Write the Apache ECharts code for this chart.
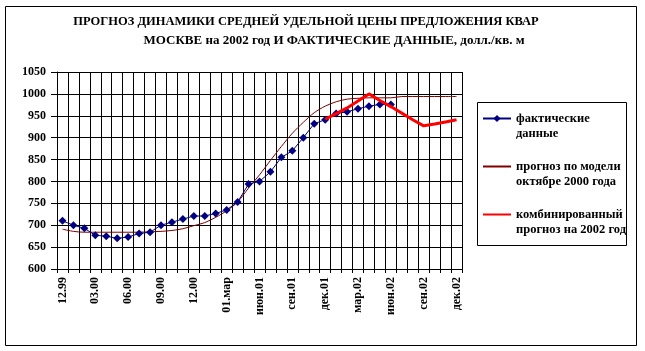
<!DOCTYPE html>
<html>
<head>
<meta charset="utf-8">
<script src="https://cdn.jsdelivr.net/npm/echarts@6/dist/echarts.min.js"></script>
<style>
  html, body { margin: 0; padding: 0; background: #fff; }
  #chart { width: 645px; height: 351px; }
</style>
</head>
<body>
<div id="chart"></div>
<script>
// месяцы: 12.99 ... дек.02
var months = ['12.99', '01.00', '02.00', '03.00', '04.00', '05.00', '06.00', '07.00', '08.00', '09.00',
  '10.00', '11.00', '12.00', 'янв.01', 'фев.01', '01.мар', 'апр.01', 'май.01', 'июн.01', 'июл.01',
  'авг.01', 'сен.01', 'окт.01', 'ноя.01', 'дек.01', 'янв.02', 'фев.02', 'мар.02', 'апр.02', 'май.02',
  'июн.02', 'июл.02', 'авг.02', 'сен.02', 'окт.02', 'ноя.02', 'дек.02'];

// фактические данные
var factData = [710, 700, 693, 677, 675, 670, 673, 681, 684, 700,
  707, 714, 721, 721, 727, 735, 753, 794, 800, 822,
  855, 870, 900, 932, 941, 955, 959, 966, 972, 976,
  976, null, null, null, null, null, null];

// прогноз по модели в октябре 2000 года
var modelData = [691, 686, 684, 684, 684, 684, 684, 684, 685, 686,
  688, 692, 699, 706, 718, 733, 753, 785, 815, 848,
  880, 910, 935, 957, 972, 982, 988, 990, 991, 991,
  991, 994, 994, 994, 994, 994, 994];

// комбинированный прогноз на 2002 год
var combData = [null, null, null, null, null, null, null, null, null, null,
  null, null, null, null, null, null, null, null, null, null,
  null, null, null, null, 942, 955, 968, 984, 1000, 985,
  971, 956, 941, 927, 931, 936, 941];

var seriesNames = ['фактические данные', 'прогноз по модели в октябре 2000 года', 'комбинированный прогноз на 2002 год'];
// подписи легенды (в исходнике обрезаны рамкой)
var legendLines = {
  'фактические данные': 'фактические\nданные',
  'прогноз по модели в октябре 2000 года': 'прогноз по модели\nоктябре 2000 года',
  'комбинированный прогноз на 2002 год': 'комбинированный\nпрогноз на 2002 год'
};

var serif = '"Liberation Serif", "Times New Roman", serif';
var noMarker = { color: 'rgba(0,0,0,0)', borderWidth: 0 };

var chart = echarts.init(document.getElementById('chart'));
var option = {
  backgroundColor: '#fff',
  animation: false,
  title: [
    {
      text: 'ПРОГНОЗ ДИНАМИКИ СРЕДНЕЙ УДЕЛЬНОЙ ЦЕНЫ ПРЕДЛОЖЕНИЯ КВАР',
      left: 306, top: 15, textAlign: 'center', padding: 0,
      textStyle: { fontFamily: serif, fontWeight: 'bold', fontSize: 12.5, color: '#000' }
    },
    {
      text: 'МОСКВЕ на 2002 год И ФАКТИЧЕСКИЕ ДАННЫЕ, долл./кв. м',
      left: 334, top: 34, textAlign: 'center', padding: 0,
      textStyle: { fontFamily: serif, fontWeight: 'bold', fontSize: 13, color: '#000' }
    }
  ],
  graphic: [
    // рамка диаграммы
    { type: 'rect', shape: { x: 5.5, y: 6.5, width: 631, height: 339 }, style: { fill: null, stroke: '#000', lineWidth: 1 }, z: -1 },
    // рамка легенды
    { type: 'rect', shape: { x: 477.5, y: 102.5, width: 149, height: 143 }, style: { fill: '#fff', stroke: '#000', lineWidth: 1 }, z: 1 }
  ],
  legend: {
    orient: 'vertical',
    left: 482,
    top: 96,
    padding: 0,
    itemGap: 3,
    itemWidth: 28,
    itemHeight: 9,
    z: 5,
    data: [
      { name: seriesNames[0] },
      { name: seriesNames[1], itemStyle: noMarker },
      { name: seriesNames[2], itemStyle: noMarker }
    ],
    formatter: function (name) {
      return '\n' + legendLines[name];
    },
    textStyle: {
      fontFamily: serif, fontWeight: 'bold', fontSize: 12.5, color: '#000',
      lineHeight: 15
    }
  },
  grid: {
    left: 57,
    right: 183,
    top: 72,
    bottom: 82
  },
  xAxis: {
    type: 'category',
    data: months,
    boundaryGap: true,
    axisLine: { lineStyle: { color: '#000', width: 1 } },
    axisTick: { show: true, interval: 0, length: 4, lineStyle: { color: '#000' } },
    axisLabel: {
      interval: 2,
      rotate: 90,
      margin: 8,
      fontFamily: serif, fontWeight: 'bold', fontSize: 12, color: '#000'
    },
    splitLine: { show: true, interval: 0, lineStyle: { color: '#000', width: 1 } }
  },
  yAxis: {
    type: 'value',
    min: 600,
    max: 1050,
    interval: 50,
    axisLine: { show: true, lineStyle: { color: '#000', width: 1 } },
    axisTick: { show: true, length: 6, lineStyle: { color: '#000' } },
    axisLabel: {
      margin: 11,
      formatter: function (v) { return String(v); },
      fontFamily: serif, fontWeight: 'bold', fontSize: 12, color: '#000'
    },
    splitLine: { show: true, lineStyle: { color: '#000', width: 1 } }
  },
  series: [
    {
      name: seriesNames[0],
      type: 'line',
      data: factData,
      symbol: 'diamond',
      symbolSize: 8,
      showAllSymbol: true,
      itemStyle: { color: '#000080' },
      lineStyle: { color: '#000080', width: 1 },
      z: 3
    },
    {
      name: seriesNames[1],
      type: 'line',
      data: modelData,
      symbol: 'none',
      smooth: 0.3,
      itemStyle: { color: '#800000' },
      lineStyle: { color: '#800000', width: 1 },
      z: 2
    },
    {
      name: seriesNames[2],
      type: 'line',
      data: combData,
      symbol: 'none',
      itemStyle: { color: '#ff0000' },
      lineStyle: { color: '#ff0000', width: 3 },
      z: 4
    }
  ]
};
chart.setOption(option);
</script>
</body>
</html>
